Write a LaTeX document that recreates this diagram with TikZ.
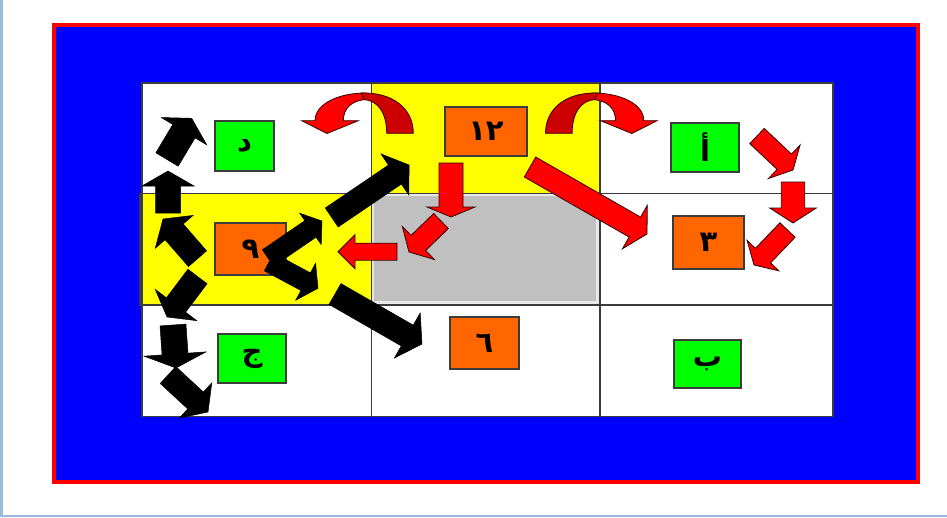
\documentclass[tikz,border=0pt]{standalone}
\usepackage{fontspec}
\newfontfamily\arabicfont[Script=Arabic]{DejaVu Sans}
\usetikzlibrary{calc}
\TeXXeTstate=1
\definecolor{stripblue}{RGB}{155,185,220}
\definecolor{gridline}{RGB}{60,60,60}
\definecolor{boxgreen}{RGB}{0,255,0}
\definecolor{boxorange}{RGB}{255,102,0}
\definecolor{celly}{RGB}{255,255,0}
\definecolor{cellgray}{RGB}{192,192,192}
\definecolor{graybord}{RGB}{232,232,232}
\definecolor{darkred}{RGB}{204,0,0}
\definecolor{arrowedge}{RGB}{50,0,0}
\tikzset{
  lbl/.style={draw=gridline, line width=1.3, inner sep=0pt,
    font=\arabicfont\bfseries\fontsize{29}{34}\selectfont},
  gbox/.style={lbl, fill=boxgreen},
  obox/.style={lbl, fill=boxorange},
  blackarrow/.style={fill=black, draw=black, line width=0.5},
  redarrow/.style={fill=red, draw=arrowedge, line width=0.8, line join=miter},
  darkarrow/.style={fill=darkred, draw=arrowedge, line width=0.8},
}
% #1 style, #2 tail centre, #3 tip, #4 half shaft, #5 half head, #6 head length
\newcommand\blockarrow[6][]{%
  \coordinate (hb) at ($(#3)!#6pt!(#2)$);
  \path[#1] ($(#2)!#4pt!90:(#3)$) -- ($(hb)!#4pt!90:(#3)$)
    -- ($(hb)!#5pt!90:(#3)$) -- (#3) -- ($(hb)!#5pt!-90:(#3)$)
    -- ($(hb)!#4pt!-90:(#3)$) -- ($(#2)!#4pt!-90:(#3)$) -- cycle;
}
\newcommand\curvedarrow{%
  \path[redarrow] (343.3,120.7) .. controls (343.3,108) and (352,100.5) .. (366,99.5)
    -- (366,93) .. controls (338,93) and (315,104) .. (315,120.7)
    -- (301.7,120.7) -- (327,133.5) -- (358.3,120.7) -- cycle;
  \path[darkarrow] (386.7,133.3) .. controls (386.7,113) and (378,100.5) .. (364,99.5)
    -- (361,93) .. controls (392,92) and (413.3,108) .. (413.3,133.3) -- cycle;
}
\begin{document}
\begin{tikzpicture}[x=1pt,y=-1pt]
\useasboundingbox (0,0) rectangle (947,517);
\fill[white] (0,0) rectangle (947,517);
\fill[stripblue] (0,0) rectangle (2.5,517);
\fill[stripblue] (0,514.5) rectangle (947,517);
% frame
\draw[red, line width=4, fill=blue] (53.5,24.7) rectangle (918,482);
% grid
\fill[white] (142,83) rectangle (833,416.5);
\fill[celly] (371.5,83) rectangle (600,193.5);
\draw[gridline, line width=1.2, fill=celly] (140,193.5) rectangle (371.5,305);
\draw[gridline, line width=1.2] (142,83) rectangle (833,416.5);
\draw[gridline, line width=1.2] (371.5,83) -- (371.5,416.5) (600,83) -- (600,416.5)
  (142,193.5) -- (833,193.5) (142,305) -- (833,305);
\draw[graybord, line width=2.5, fill=cellgray] (373,195) rectangle (597.5,302.5);
% boxes
\node[gbox, minimum width=59, minimum height=50] (dal) at (244.5,146) {د};
\node[obox, minimum width=71, minimum height=52] (nine) at (250.5,249) {٩};
\node[obox, minimum width=82, minimum height=49] (twelve) at (486,131.5) {١٢};
\node[gbox, minimum width=68, minimum height=49] (alif) at (705,147.5) {أ};
\node[obox, minimum width=71, minimum height=53] (three) at (708.5,242.5) {٣};
\node[gbox, minimum width=68, minimum height=49] (jim) at (252,358.5) {ج};
\node[obox, minimum width=69, minimum height=52] (six) at (484.5,343) {٦};
\node[gbox, minimum width=67, minimum height=48] (ba) at (707.5,364) {ب};
% black arrows
\blockarrow[blackarrow]{167,159.5}{191.7,118.3}{13}{26.5}{15}
\blockarrow[blackarrow]{168,213}{168,171}{12.5}{26}{15}
\blockarrow[blackarrow]{197.5,258.7}{163,219}{12}{25}{17}
\blockarrow[blackarrow]{197.5,276.5}{167,317}{12}{26}{15}
\blockarrow[blackarrow]{173,325}{176,368}{13}{31}{14}
\blockarrow[blackarrow]{168,375}{208,412}{11.5}{24}{17}
\blockarrow[blackarrow]{331.7,217.5}{409,165}{11.5}{25}{17}
\blockarrow[blackarrow]{268,258}{322,221}{10}{19}{14}
\blockarrow[blackarrow]{269,262}{318,288.3}{10}{21}{14}
\blockarrow[blackarrow]{335,294}{422,344}{12}{26}{17}
% red arrows
\blockarrow[redarrow]{451,163}{451,217}{12}{24}{10}
\blockarrow[redarrow]{441,221}{409,252}{10.5}{23}{13}
\blockarrow[redarrow]{397,251.7}{338,251.7}{8.5}{17}{17}
\blockarrow[redarrow]{530,167}{647,234}{11.5}{25}{14}
\blockarrow[redarrow]{757,136}{793,170}{10.5}{23}{12}
\blockarrow[redarrow]{793,182}{793,223}{11.7}{23.3}{15}
\blockarrow[redarrow]{787.5,230}{754,265}{10.5}{22}{13}
% curved arrows
\curvedarrow
\begin{scope}[shift={(958.8,0)}, xscale=-1]
\curvedarrow
\end{scope}
\end{tikzpicture}
\end{document}
